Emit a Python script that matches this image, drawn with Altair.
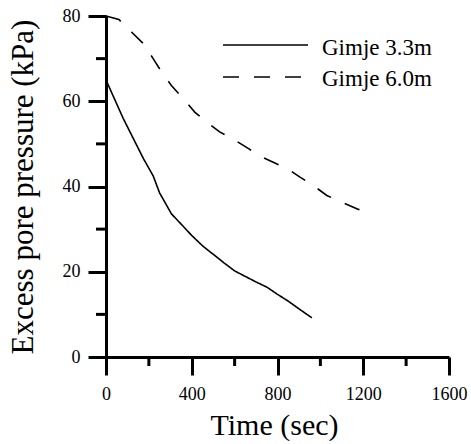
import altair as alt
import pandas as pd

# ---- data ----
names = ["Gimje 3.3m", "Gimje 6.0m"]

t_33 = [0, 40, 80, 130, 175, 220, 250, 305, 350, 400, 450, 500, 550, 600,
        650, 700, 750, 800, 850, 900, 960]
p_33 = [65, 60.5, 56, 51, 46.5, 42.5, 38.5, 33.6, 31.2, 28.5, 26.1, 24.1,
        22.1, 20.2, 18.9, 17.6, 16.4, 14.7, 13.1, 11.3, 9.2]

t_60 = [0, 60, 120, 175, 220, 260, 305, 360, 415, 470, 530, 590, 665, 710,
        780, 845, 905, 965, 1030, 1100, 1170, 1240]
p_60 = [80, 79.2, 76.2, 73.5, 70, 66.8, 63.7, 60.6, 57.4, 55.1, 52.8, 51.2,
        48.9, 47.3, 45.7, 44.2, 42.2, 40.3, 37.9, 36.3, 34.8, 33.3]

x_major = [0, 400, 800, 1200, 1600]
x_minor = [200, 600, 1000, 1400]
y_major = [0, 20, 40, 60, 80]
y_minor = [10, 30, 50, 70]

FONT = "Liberation Serif"
INK = "#000000"

df = pd.concat([
    pd.DataFrame({"t": t_33, "p": p_33, "series": names[0]}),
    pd.DataFrame({"t": t_60, "p": p_60, "series": names[1]}),
])

dashes = [[1, 0], [16, 15]]

x_enc = alt.X("t:Q",
              scale=alt.Scale(domain=[0, 1600], nice=False, zero=False),
              axis=alt.Axis(values=x_major, format="d", labelPadding=10,
                            title="Time (sec)", titleX=168, titleY=77,
                            titleFontSize=30))
y_enc = alt.Y("p:Q",
              scale=alt.Scale(domain=[0, 80], nice=False),
              axis=alt.Axis(values=y_major, format="d", labelPadding=8,
                            title="Excess pore pressure (kPa)",
                            titleFontSize=31, titleAngle=270,
                            titleX=-74, titleY=170.5))

lines = alt.Chart(df).mark_line(color="black", strokeWidth=1.6).encode(
    x=x_enc,
    y=y_enc,
    strokeDash=alt.StrokeDash("series:N",
                              scale=alt.Scale(domain=names, range=dashes),
                              legend=None),
)

# ---- minor ticks (axis decoration, positioned by the x / y scales) ----
xminor = alt.Chart(pd.DataFrame({"t": x_minor})).mark_rule(
    color=INK, strokeWidth=3).encode(
    x="t:Q", y=alt.value(341), y2=alt.value(350))
yminor = alt.Chart(pd.DataFrame({"p": y_minor})).mark_rule(
    color=INK, strokeWidth=3).encode(
    y="p:Q", x=alt.value(0), x2=alt.value(-10))

# ---- legend drawn as decorations ----
leg_line_y = [29, 61]
leg_text_y = [38.5, 69.5]
legend_layers = []
for i, name in enumerate(names):
    ldf = pd.DataFrame({"name": [name]})
    legend_layers.append(
        alt.Chart(ldf).mark_rule(color="black", strokeWidth=1.6,
                                 strokeDash=dashes[i]).encode(
            x=alt.value(117), x2=alt.value(202), y=alt.value(leg_line_y[i]))
    )
    legend_layers.append(
        alt.Chart(ldf).mark_text(font=FONT, fontSize=23, color="black",
                                 align="left", baseline="alphabetic").encode(
            x=alt.value(216), y=alt.value(leg_text_y[i]), text="name:N")
    )

chart = alt.layer(lines, xminor, yminor, *legend_layers).properties(
    width=343, height=341,
    padding={"left": 106, "top": 16, "right": 22, "bottom": 87},
    autosize=alt.AutoSizeParams(type="none"),
    background="white",
).configure_view(stroke=None).configure_axis(
    tickSize=18, tickWidth=3, tickColor=INK, tickOpacity=1, ticks=True,
    domainColor=INK, domainWidth=3, domainOpacity=1, grid=False,
    labelFont=FONT, labelFontSize=18, labelColor="black", labelFlush=False,
    titleFont=FONT, titleFontWeight="normal", titleColor="black",
    titleBaseline="alphabetic", titleAlign="center",
)

chart.save("out.html", embed_options={"renderer": "svg", "actions": False})
